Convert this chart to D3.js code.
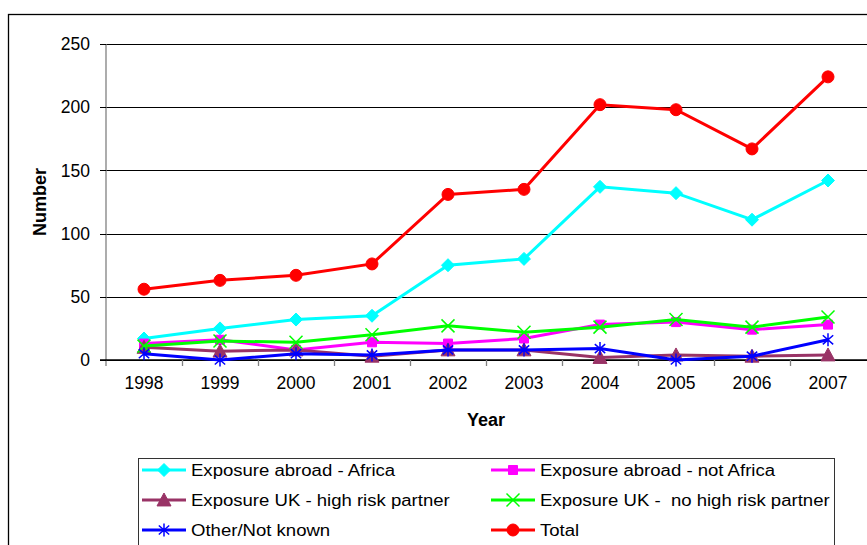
<!DOCTYPE html>
<html lang="en">
<head>
<meta charset="UTF-8">
<title>Number by year</title>
<script src="https://cdn.jsdelivr.net/npm/d3@7"></script>
<style>
  body { margin: 0; background: #fff; }
  svg { display: block; font-family: "Liberation Sans", Arial, sans-serif; }
  .tick text { font-size: 17.5px; fill: #000; }
  .axis-title { font-size: 18px; font-weight: bold; fill: #000; }
  .legend text { font-size: 16px; fill: #000; white-space: pre; }
</style>
</head>
<body>
<script>
// data
var years = ["1998", "1999", "2000", "2001", "2002", "2003", "2004", "2005", "2006", "2007"];
var africa    = [17, 25, 32, 35, 75, 80, 137, 132, 111, 142];
var notAfrica = [13, 16, 8, 14, 13, 17, 28, 30, 24, 28];
var ukHigh    = [10, 7, 8, 3, 8, 8, 2, 4, 3, 4];
var ukNoHigh  = [11, 15, 14, 20, 27, 22, 26, 32, 26, 34];
var other     = [5, 0, 5, 4, 8, 8, 9, 0, 3, 16];
var total     = [56, 63, 67, 76, 131, 135, 202, 198, 167, 224];
var yTicks = [0, 50, 100, 150, 200, 250];

var width = 867, height = 545;
var plot = {left: 106, right: 866, top: 44, bottom: 360};

var svg = d3.select("body").append("svg")
  .attr("width", width)
  .attr("height", height);

// outer chart border (runs off the right / bottom)
svg.append("rect")
  .attr("x", 8.5).attr("y", 14.5)
  .attr("width", 900).attr("height", 600)
  .attr("fill", "none").attr("stroke", "#000").attr("stroke-width", 1.3);

var x = d3.scaleBand().domain(years).range([plot.left, plot.right]).padding(0);
var y = d3.scaleLinear().domain([0, 250]).range([plot.bottom, plot.top]);
var cx = function(i) { return x(years[i]) + x.bandwidth() / 2; };

// gridlines
svg.append("g")
  .attr("transform", "translate(" + plot.left + ",0)")
  .call(d3.axisLeft(y).tickValues(yTicks).tickSize(-(width - plot.left)).tickFormat(""))
  .call(function(g) {
    g.select(".domain").remove();
    g.selectAll("line").attr("stroke", "#000").attr("stroke-width", 1).attr("shape-rendering", "crispEdges");
  });

// y axis
svg.append("g")
  .attr("transform", "translate(" + plot.left + ",0)")
  .call(d3.axisLeft(y).tickValues(yTicks).tickSize(6).tickPadding(10).tickSizeOuter(0))
  .call(function(g) {
    g.select(".domain").attr("stroke", "#808080").attr("stroke-width", 1.3).attr("d", "M0," + plot.top + "V" + (plot.bottom + 6));
    g.selectAll(".tick line").attr("stroke", "#000").attr("shape-rendering", "crispEdges");
  });

// x axis
var xg = svg.append("g")
  .attr("transform", "translate(0," + plot.bottom + ")")
  .call(d3.axisBottom(x).tickSize(0).tickPadding(17))
  .call(function(g) {
    g.select(".domain").attr("stroke", "#000").attr("stroke-width", 1.3).attr("d", "M" + (plot.left - 6) + ",0H" + width);
  });
xg.selectAll(".boundary")
  .data(years.slice(1))
  .enter().append("line")
  .attr("class", "boundary")
  .attr("x1", function(d) { return Math.round(x(d)) + 0.5; })
  .attr("x2", function(d) { return Math.round(x(d)) + 0.5; })
  .attr("y1", 0).attr("y2", 6)
  .attr("stroke", "#808080").attr("stroke-width", 1.3);

// axis titles
svg.append("text")
  .attr("class", "axis-title")
  .attr("transform", "translate(46,202) rotate(-90)")
  .attr("text-anchor", "middle")
  .text("Number");
svg.append("text")
  .attr("class", "axis-title")
  .attr("x", 486).attr("y", 426)
  .attr("text-anchor", "middle")
  .text("Year");

// marker shapes
function diamond(r) {
  return {draw: function(c) { c.moveTo(0, -r); c.lineTo(r, 0); c.lineTo(0, r); c.lineTo(-r, 0); c.closePath(); }};
}
function square(r) {
  return {draw: function(c) { c.rect(-r, -r, 2 * r, 2 * r); }};
}
function triangle(r) {
  return {draw: function(c) { c.moveTo(0, -r); c.lineTo(r * 1.0, r * 0.85); c.lineTo(-r * 1.0, r * 0.85); c.closePath(); }};
}
function cross(r) {
  return {draw: function(c) { c.moveTo(-r, -r); c.lineTo(r, r); c.moveTo(r, -r); c.lineTo(-r, r); }};
}
function star(r) {
  return {draw: function(c) {
    c.moveTo(0, -r); c.lineTo(0, r);
    c.moveTo(-r * 0.8, -r * 0.7); c.lineTo(r * 0.8, r * 0.7);
    c.moveTo(r * 0.8, -r * 0.7); c.lineTo(-r * 0.8, r * 0.7);
  }};
}
function circle(r) {
  return {draw: function(c) { c.moveTo(r, 0); c.arc(0, 0, r, 0, 2 * Math.PI); }};
}

var series = [
  {name: "Exposure abroad - Africa", values: africa, color: "#00FFFF", type: diamond(6.5), filled: true},
  {name: "Exposure abroad - not Africa", values: notAfrica, color: "#FF00FF", type: square(4.5), filled: true},
  {name: "Exposure UK - high risk partner", values: ukHigh, color: "#993366", type: triangle(7), filled: true},
  {name: "Exposure UK -  no high risk partner", values: ukNoHigh, color: "#00FF00", type: cross(6.5), filled: false},
  {name: "Other/Not known", values: other, color: "#0000FF", type: star(6.5), filled: false},
  {name: "Total", values: total, color: "#FF0000", type: circle(6), filled: true}
];

var line = d3.line()
  .x(function(d, i) { return cx(i); })
  .y(function(d) { return y(d); });

var sym = function(s) { return d3.symbol().type(s.type)(); };

var sg = svg.selectAll(".series")
  .data(series)
  .enter().append("g")
  .attr("class", "series");

sg.append("path")
  .attr("d", function(s) { return line(s.values); })
  .attr("fill", "none")
  .attr("stroke", function(s) { return s.color; })
  .attr("stroke-width", 3);

sg.each(function(s) {
  d3.select(this).selectAll(".mark")
    .data(s.values)
    .enter().append("path")
    .attr("class", "mark")
    .attr("transform", function(d, i) { return "translate(" + cx(i) + "," + y(d) + ")"; })
    .attr("d", sym(s))
    .attr("fill", s.filled ? s.color : "none")
    .attr("stroke", s.color)
    .attr("stroke-width", s.filled ? 1 : 1.5);
});

// legend
var legend = svg.append("g").attr("class", "legend");
legend.append("rect")
  .attr("x", 138.5).attr("y", 458.5)
  .attr("width", 696).attr("height", 120)
  .attr("fill", "#fff").attr("stroke", "#333").attr("stroke-width", 1);

var cols = [142, 491], rowY = [470, 500, 530];
var item = legend.selectAll(".item")
  .data(series)
  .enter().append("g")
  .attr("class", "item")
  .attr("transform", function(s, i) { return "translate(" + cols[i % 2] + "," + rowY[Math.floor(i / 2)] + ")"; });

item.append("line")
  .attr("x1", 0).attr("x2", 44)
  .attr("stroke", function(s) { return s.color; })
  .attr("stroke-width", 3);
item.append("path")
  .attr("transform", "translate(22,0)")
  .attr("d", sym)
  .attr("fill", function(s) { return s.filled ? s.color : "none"; })
  .attr("stroke", function(s) { return s.color; })
  .attr("stroke-width", function(s) { return s.filled ? 1 : 1.5; });
item.append("text")
  .attr("transform", "translate(49,6) scale(1.16,1)")
  .text(function(s) { return s.name; });
</script>
</body>
</html>
